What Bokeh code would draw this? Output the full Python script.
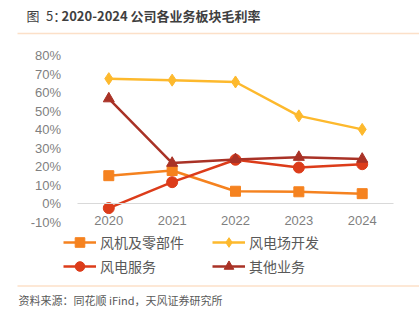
from bokeh.plotting import figure
from bokeh.models import (Range1d, FixedTicker, PrintfTickFormatter, LinearAxis,
                          Legend, LegendItem, Label, PolyAnnotation)
from bokeh.embed import file_html
from bokeh.resources import INLINE

# ---------------- data ----------------
years = ["2020", "2021", "2022", "2023", "2024"]
wind_turbine = [15.2, 18.0, 6.8, 6.5, 5.5]      # 风机及零部件
wind_farm = [67.6, 66.8, 65.8, 47.5, 40.2]      # 风电场开发
wind_service = [-2.3, 11.7, 23.8, 19.6, 21.4]   # 风电服务
other_biz = [56.8, 22.0, 24.0, 25.2, 24.2]      # 其他业务
y_ticks = [-10, 0, 10, 20, 30, 40, 50, 60, 70, 80]

series_names = ["风机及零部件", "风电场开发", "风电服务", "其他业务"]
title_prefix = "图\u20025："
title_text = "2020-2024 公司各业务板块毛利率"
source_text = "资料来源：同花顺 iFind，天风证券研究所"

x_idx = list(range(len(years)))

W, H = 419, 325
# the frame covers the whole canvas; ranges chosen so that the plot area sits
# where the reference draws it
p = figure(width=W, height=H, x_range=Range1d(-1.7095, 4.9045),
           y_range=Range1d(-65.7, 109.8), output_backend="svg",
           toolbar_location=None, min_border=0,
           x_axis_type=None, y_axis_type=None)
p.outline_line_color = None
p.background_fill_color = "white"
p.border_fill_color = "white"
p.grid.visible = False

tick_font = "Liberation Sans"
tick_color = "#7f7f7f"

yaxis = LinearAxis(fixed_location=-0.5, bounds=(y_ticks[0], y_ticks[-1]),
                   ticker=FixedTicker(ticks=y_ticks),
                   formatter=PrintfTickFormatter(format="%d%%"),
                   axis_line_color=None, major_tick_line_color=None,
                   minor_tick_line_color=None, major_label_standoff=10,
                   major_label_text_font=tick_font,
                   major_label_text_font_size="13px",
                   major_label_text_color=tick_color)
p.add_layout(yaxis, "left")

xaxis = LinearAxis(fixed_location=0, bounds=(-0.5, len(years) - 0.5),
                   ticker=FixedTicker(ticks=x_idx),
                   major_label_overrides={i: y for i, y in zip(x_idx, years)},
                   axis_line_color="#d9d9d9", axis_line_width=1,
                   major_tick_line_color=None, minor_tick_line_color=None,
                   major_label_standoff=6, major_label_text_font=tick_font,
                   major_label_text_font_size="13px",
                   major_label_text_color=tick_color)
p.add_layout(xaxis, "below")

colors = ["#f5821f", "#fdb92d", "#dc3c1a", "#a93226"]
markers = ["square", "diamond", "circle", "triangle"]
sizes = [10, 12, 11, 11]
data = [wind_turbine, wind_farm, wind_service, other_biz]

items = []
for name, vals, c, m, s in zip(series_names, data, colors, markers, sizes):
    lr = p.line(x_idx, vals, line_color=c, line_width=2.5)
    sr = p.scatter(x_idx, vals, marker=m, size=s, fill_color=c, line_color=c)
    items.append(LegendItem(label=name, renderers=[lr, sr]))

def make_legend(its, vx, vy):
    lg = Legend(items=its, location=(vx, vy), orientation="vertical",
                glyph_width=33, glyph_height=24, label_height=24, spacing=0,
                label_standoff=4, padding=0, margin=0,
                border_line_color=None, background_fill_alpha=0,
                label_text_font="Noto Sans CJK SC", label_text_font_size="14px",
                label_text_color="#595959")
    p.add_layout(lg, "center")

make_legend([items[0], items[2]], 63, H - 278)
make_legend([items[1], items[3]], 212, H - 278)

# title and source
p.add_layout(Label(x=26, y=H - 15, x_units="screen", y_units="screen",
                   text=title_prefix, text_font="Noto Sans CJK SC",
                   text_font_size="13px", text_color="#404040",
                   text_baseline="middle"))
p.add_layout(Label(x=61, y=H - 15, x_units="screen", y_units="screen",
                   text=title_text, text_font="Noto Sans CJK SC",
                   text_font_size="13px", text_font_style="bold",
                   text_color="#3f3f3f", text_baseline="middle"))
p.add_layout(Label(x=18, y=H - 299, x_units="screen", y_units="screen",
                   text=source_text, text_font="Noto Sans CJK SC",
                   text_font_size="11px", text_color="#595959",
                   text_baseline="middle"))

for yline in (33, 285.5):
    p.add_layout(PolyAnnotation(xs=[17, W], ys=[H - yline, H - yline],
                                xs_units="screen", ys_units="screen",
                                line_color="#f4994a", line_width=1.5,
                                fill_alpha=0))

open("out.html", "w").write(file_html(p, INLINE))
